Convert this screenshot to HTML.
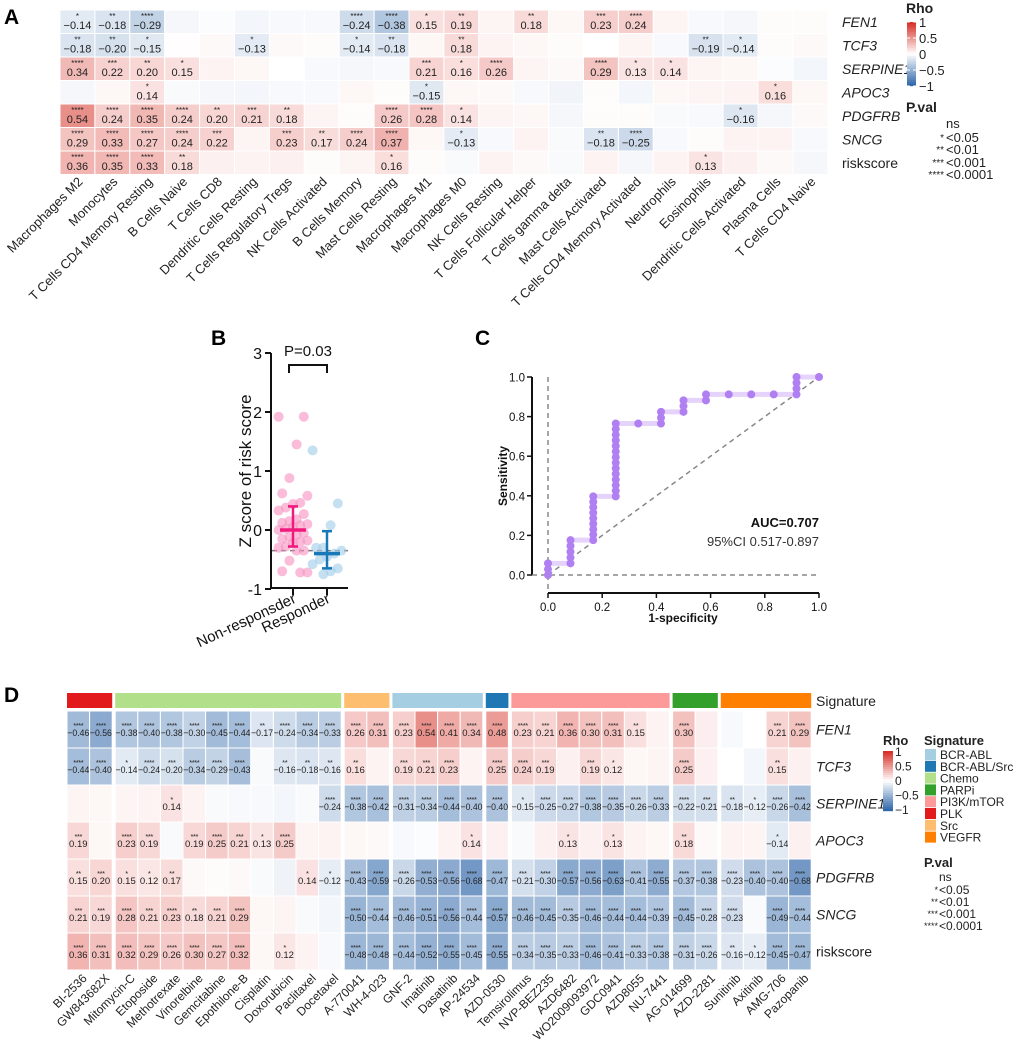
<!DOCTYPE html>
<html><head><meta charset="utf-8">
<style>
html,body{margin:0;padding:0;background:#fff;}
svg{display:block;font-family:"Liberation Sans",Arial,sans-serif;}
</style></head>
<body>
<svg id="fig" width="1020" height="1041" viewBox="0 0 1020 1041" xmlns="http://www.w3.org/2000/svg">
<rect width="1020" height="1041" fill="#fff"/>
<g id="pa"></g>
<g id="pb"></g>
<g id="pc"></g>
<g id="pd"></g>
</svg>
<script>
// ===== Panel A data =====
const aCols = ["Macrophages M2","Monocytes","T Cells CD4 Memory Resting","B Cells Naive","T Cells CD8","Dendritic Cells Resting","T Cells Regulatory Tregs","NK Cells Activated","B Cells Memory","Mast Cells Resting","Macrophages M1","Macrophages M0","NK Cells Resting","T Cells Follicular Helper","T Cells gamma delta","Mast Cells Activated","T Cells CD4 Memory Activated","Neutrophils","Eosinophils","Dendritic Cells Activated","Plasma Cells","T Cells CD4 Naive"];
const aRows = ["FEN1","TCF3","SERPINE1","APOC3","PDGFRB","SNCG","riskscore"];
const aVals = [
 [-0.14,-0.18,-0.29,-0.05,-0.02,-0.06,-0.04,-0.04,-0.24,-0.38,0.15,0.19,0.05,0.18,0.04,0.23,0.24,0.05,-0.04,-0.05,0.02,0.02],
 [-0.18,-0.20,-0.15,0.01,0.03,-0.13,0.03,0.02,-0.14,-0.18,0.04,0.18,0.06,0.04,0.02,0.00,0.05,-0.04,-0.19,-0.14,0.02,0.03],
 [0.34,0.22,0.20,0.15,0.06,0.04,0.00,-0.04,-0.05,-0.04,0.21,0.16,0.26,0.05,0.03,0.29,0.13,0.14,0.05,0.04,-0.02,-0.06],
 [-0.05,0.04,0.14,-0.03,-0.05,-0.06,-0.04,-0.04,0.04,0.02,-0.15,0.04,0.03,-0.04,-0.07,0.02,-0.06,0.04,0.05,0.06,0.16,0.04],
 [0.54,0.24,0.35,0.24,0.20,0.21,0.18,0.05,0.02,0.26,0.28,0.14,0.05,0.04,-0.05,0.02,0.02,-0.03,-0.04,-0.16,-0.05,0.03],
 [0.29,0.33,0.27,0.24,0.22,0.05,0.23,0.17,0.24,0.37,0.04,-0.13,-0.04,0.06,-0.03,-0.18,-0.25,-0.04,0.02,0.06,0.06,-0.04],
 [0.36,0.35,0.33,0.18,0.07,0.06,0.07,0.02,0.05,0.16,0.02,-0.03,0.06,0.03,-0.03,0.06,-0.05,0.06,0.13,0.07,0.03,-0.05]
];
const aStars = [
 ["*","**","****","","","","","","****","****","*","**","","**","","***","****","","","","",""],
 ["**","**","*","","","*","","","*","**","","**","","","","","","","**","*","",""],
 ["****","***","**","*","","","","","","","***","*","****","","","****","*","*","","","",""],
 ["","","*","","","","","","","","*","","","","","","","","","","*",""],
 ["****","****","****","****","**","***","**","","","****","****","*","","","","","","","","*","",""],
 ["****","****","****","****","***","","***","**","****","****","","*","","","","**","****","","","","",""],
 ["****","****","****","**","","","","","","*","","","","","","","","","*","","",""]
];
// ===== Panel D data =====
const dCols = ["BI-2536","GW843682X","Mitomycin-C","Etoposide","Methotrexate","Vinorelbine","Gemcitabine","Epothilone-B","Cisplatin","Doxorubicin","Paclitaxel","Docetaxel","A-770041","WH-4-023","GNF-2","Imatinib","Dasatinib","AP-24534","AZD-0530","Temsirolimus","NVP-BEZ235","AZD6482","WO2009093972","GDC0941","AZD8055","NU-7441","AG-014699","AZD-2281","Sunitinib","Axitinib","AMG-706","Pazopanib"];
const dGroups = ["PLK","PLK","Chemo","Chemo","Chemo","Chemo","Chemo","Chemo","Chemo","Chemo","Chemo","Chemo","Src","Src","BCR-ABL","BCR-ABL","BCR-ABL","BCR-ABL","BCR-ABL/Src","PI3K/mTOR","PI3K/mTOR","PI3K/mTOR","PI3K/mTOR","PI3K/mTOR","PI3K/mTOR","PI3K/mTOR","PARPi","PARPi","VEGFR","VEGFR","VEGFR","VEGFR"];
const dRows = ["FEN1","TCF3","SERPINE1","APOC3","PDGFRB","SNCG","riskscore"];
const dVals = [
 [-0.46,-0.56,-0.38,-0.40,-0.38,-0.30,-0.45,-0.44,-0.17,-0.24,-0.34,-0.33,0.26,0.31,0.23,0.54,0.41,0.34,0.48,0.23,0.21,0.36,0.30,0.31,0.15,0.06,0.30,0.08,-0.04,0.00,0.21,0.29],
 [-0.44,-0.40,-0.14,-0.24,-0.20,-0.34,-0.29,-0.43,-0.03,-0.16,-0.18,-0.16,0.16,0.06,0.19,0.21,0.23,0.06,0.25,0.24,0.19,0.07,0.19,0.12,0.04,0.05,0.25,0.07,0.00,-0.06,0.15,0.07],
 [0.05,0.04,0.05,0.06,0.14,0.06,-0.03,-0.04,-0.04,-0.06,-0.03,-0.24,-0.38,-0.42,-0.31,-0.34,-0.44,-0.40,-0.40,-0.15,-0.25,-0.27,-0.38,-0.35,-0.26,-0.33,-0.22,-0.21,-0.18,-0.12,-0.26,-0.42],
 [0.19,0.04,0.23,0.19,-0.03,0.19,0.25,0.21,0.13,0.25,0.05,0.06,0.04,0.03,-0.04,-0.02,0.06,0.14,0.07,-0.03,0.07,0.13,0.07,0.13,0.06,0.04,0.18,0.03,0.06,0.05,-0.14,0.07],
 [0.15,0.20,0.15,0.12,0.17,0.03,0.02,0.03,-0.03,-0.08,0.14,-0.12,-0.43,-0.59,-0.26,-0.53,-0.56,-0.68,-0.47,-0.21,-0.30,-0.57,-0.56,-0.63,-0.41,-0.55,-0.37,-0.38,-0.23,-0.40,-0.40,-0.68],
 [0.21,0.19,0.28,0.21,0.23,0.18,0.21,0.29,0.04,0.05,-0.03,-0.06,-0.50,-0.44,-0.46,-0.51,-0.56,-0.44,-0.57,-0.46,-0.45,-0.35,-0.46,-0.44,-0.44,-0.39,-0.45,-0.28,-0.23,-0.03,-0.49,-0.44],
 [0.36,0.31,0.32,0.29,0.26,0.30,0.27,0.32,0.04,0.12,0.06,-0.04,-0.48,-0.48,-0.44,-0.52,-0.55,-0.45,-0.55,-0.34,-0.35,-0.33,-0.46,-0.41,-0.33,-0.38,-0.31,-0.26,-0.16,-0.12,-0.45,-0.47]
];
const dStars = [
 ["****","****","****","****","****","****","****","****","**","****","****","****","****","****","****","****","****","****","****","****","***","****","****","****","**","","****","","","","***","****"],
 ["****","****","*","****","***","****","****","****","","**","**","**","**","","***","***","****","","****","****","***","","***","*","","","****","","","","**",""],
 ["","","","","*","","","","","","","****","****","****","****","****","****","****","****","*","****","****","****","****","****","****","****","***","**","*","****","****"],
 ["***","","****","***","","***","****","***","*","****","","","","","","","","*","","","","*","","*","","","**","","","","*",""],
 ["**","***","*","*","**","","","","","","*","*","****","****","****","****","****","****","****","***","****","****","****","****","****","****","****","****","****","****","****","****"],
 ["***","***","****","***","****","**","***","****","","","","","****","****","****","****","****","****","****","****","****","****","****","****","****","****","****","****","****","","****","****"],
 ["****","****","****","****","****","****","****","****","","*","","","****","****","****","****","****","****","****","****","****","****","****","****","****","****","****","****","**","*","****","****"]
];
const sigNames = ["BCR-ABL","BCR-ABL/Src","Chemo","PARPi","PI3K/mTOR","PLK","Src","VEGFR"];
const sigColors = ["#a6cee3","#1f78b4","#b2df8a","#33a02c","#fb9a99","#e31a1c","#fdbf6f","#ff7f00"];
// ===== Panel B data =====
const bGroups = ["Non-responsder","Responder"];
const bNonResp = [1.92,1.92,1.45,0.88,0.62,0.58,0.46,0.44,0.38,0.33,0.27,0.18,0.15,0.12,0.10,0.08,0.05,0.02,0.00,-0.05,-0.08,-0.12,-0.15,-0.18,-0.20,-0.22,-0.28,-0.30,-0.35,-0.35,-0.52,-0.70,-0.72,-0.72];
const bResp = [1.35,0.45,0.08,-0.30,-0.30,-0.35,-0.40,-0.45,-0.50,-0.58,-0.65,-0.70,-0.75];
const bCenter = [0.00,-0.40];
const bUpper = [0.40,-0.02];
const bLower = [-0.28,-0.65];
const bYTicks = [3,2,1,0,-1];
const bCutoff = -0.35;
// ===== Panel C data =====
const rocFpr = [0,0,0.083,0.083,0.167,0.167,0.25,0.25,0.333,0.417,0.417,0.5,0.5,0.583,0.583,0.667,0.75,0.833,0.917,0.917,1];
const rocTpr = [0,0.059,0.059,0.176,0.176,0.397,0.397,0.765,0.765,0.765,0.824,0.824,0.882,0.882,0.912,0.912,0.912,0.912,0.912,1,1];
const cTicks = [0,0.2,0.4,0.6,0.8,1.0];
const aucLabel = "AUC=0.707";
const ciLabel = "95%CI 0.517-0.897";

const NS="http://www.w3.org/2000/svg";
function mk(parent,tag,attrs,text){const e=document.createElementNS(NS,tag);for(const k in attrs)e.setAttribute(k,attrs[k]);if(text!==undefined)e.textContent=text;parent.appendChild(e);return e;}
function color(v){v=Math.max(-1,Math.min(1,v));let t=Math.abs(v);let c=v>=0?[215,48,39]:[49,104,170];
 return `rgb(${Math.round(255+(c[0]-255)*t)},${Math.round(255+(c[1]-255)*t)},${Math.round(255+(c[2]-255)*t)})`;}

// ===== Panel A =====
(function(){
 const g=document.getElementById('pa');
 let t=mk(g,'text',{x:4,y:24,'font-size':21,'font-weight':'bold'},'A');
 
 
 const x0=60,cw=34.9,y0=10,rh=23.5;
 const xs=i=>x0+i*cw, ys=j=>y0+j*rh;
 aRows.forEach((r,j)=>{
  aCols.forEach((c,i)=>{
   const v=aVals[j][i];
   const rc=mk(g,'rect',{x:xs(i),y:ys(j),width:cw,height:rh,fill:color(v),stroke:'#fff','stroke-width':1});
   
   
   const s=aStars[j][i];
   if(s){
    const cx=xs(i)+cw/2;
    const st=mk(g,'text',{x:cx,y:ys(j)+9,'font-size':8,'text-anchor':'middle',fill:'#222'},s);
    
    
    const vt=mk(g,'text',{x:cx,y:ys(j)+19,'font-size':11,'text-anchor':'middle',fill:'#222'},(v<0?'\u22120':'0')+Math.abs(v).toFixed(2).slice(1));
    
    
   }
  });
  const rl=mk(g,'text',{x:842,y:ys(j)+rh/2+5,'font-size':14,'font-style':r==='riskscore'?'normal':'italic',fill:'#222'},r);
  
  
 });
 aCols.forEach((c,i)=>{
  const cx=xs(i)+cw/2+6, cy=y0+7*rh+8;
  const tl=mk(g,'text',{x:cx,y:cy,'font-size':13,'text-anchor':'end',fill:'#222',transform:`rotate(-45 ${cx} ${cy})`},c);
  
  
 });
 const lg=mk(g,'g',{});
 
 
 mk(lg,'text',{x:906,y:13,'font-size':14,'font-weight':'bold',fill:'#222'},'Rho');
 for(let k=0;k<32;k++){const v=1-2*k/31;mk(lg,'rect',{x:907,y:22+k*2,width:9,height:2.2,fill:color(v)});}
 [[1,'1'],[0.5,'0.5'],[0,'0'],[-0.5,'\u22120.5'],[-1,'\u22121']].forEach(([v,l])=>{const y=54-v*32;mk(lg,'text',{x:919,y:y+5,'font-size':13,fill:'#222'},l);mk(lg,'line',{x1:907,x2:910,y1:y,y2:y,stroke:'#fff'});mk(lg,'line',{x1:913,x2:916,y1:y,y2:y,stroke:'#fff'});});
 mk(lg,'text',{x:906,y:112,'font-size':14,'font-weight':'bold',fill:'#222'},'P.val');
 [['','ns',129],['*','<0.05',141],['**','<0.01',153],['***','<0.001',166],['****','<0.0001',178]].forEach(([s,l,y])=>{
  mk(lg,'text',{x:944,y:y,'font-size':10,'text-anchor':'end',fill:'#222'},s);
  mk(lg,'text',{x:946,y:y+(l==='ns'?-1:1),'font-size':13,fill:'#222'},l);
 });
})();

// ===== Panel B =====
(function(){
 const g=document.getElementById('pb');
 let t=mk(g,'text',{x:211,y:345,'font-size':21,'font-weight':'bold'},'B');
 
 
 const yv=v=>530-59*v, xg=[293,327];
 const ax=mk(g,'path',{d:`M271 353 V588 H348`,stroke:'#111','stroke-width':2,fill:'none'});
 
 
 bYTicks.forEach(v=>{mk(g,'line',{x1:265,x2:271,y1:yv(v),y2:yv(v),stroke:'#111','stroke-width':2});
  const tl=mk(g,'text',{x:262,y:yv(v)+6,'font-size':16,'text-anchor':'end',fill:'#111'},v<0?'-'+Math.abs(v):String(v));
  
  });
 xg.forEach((x,i)=>{mk(g,'line',{x1:x,x2:x,y1:588,y2:595,stroke:'#111','stroke-width':2});
  const tl=mk(g,'text',{x:x+4,y:602,'font-size':15,'text-anchor':'end',fill:'#111',transform:`rotate(-25 ${x+4} 602)`},bGroups[i]);
  
  });
 const yt=mk(g,'text',{x:0,y:0,'font-size':17,'text-anchor':'middle',fill:'#111',transform:'translate(251 471) rotate(-90)'},'Z score of risk score');
 
 
 const cut=mk(g,'line',{x1:272,x2:348,y1:yv(bCutoff),y2:yv(bCutoff),stroke:'#777','stroke-width':1.5,'stroke-dasharray':'5 4'});
 
 
 const sets=[[bNonResp,'#f78fc0','#f0197d'],[bResp,'#9ecbe8','#1979b8']];
 sets.forEach(([arr,fc,lc],gi)=>{
  arr.forEach((v,i)=>{const off=((i*7)%9-4)*3.6;
   const c=mk(g,'circle',{cx:xg[gi]+off,cy:yv(v),r:5,fill:fc,'fill-opacity':0.6});
   
   });
  const x=xg[gi];
  const eb=mk(g,'g',{stroke:lc,'stroke-width':3.5});
  
  
  mk(eb,'line',{x1:x-13,x2:x+13,y1:yv(bCenter[gi]),y2:yv(bCenter[gi])});
  mk(eb,'line',{x1:x,x2:x,y1:yv(bUpper[gi]),y2:yv(bLower[gi]),'stroke-width':2.5});
  mk(eb,'line',{x1:x-5,x2:x+5,y1:yv(bUpper[gi]),y2:yv(bUpper[gi]),'stroke-width':2.5});
  mk(eb,'line',{x1:x-5,x2:x+5,y1:yv(bLower[gi]),y2:yv(bLower[gi]),'stroke-width':2.5});
 });
 const br=mk(g,'path',{d:'M289 373 V365 H327 V373',stroke:'#111','stroke-width':2,fill:'none'});
 
 
 const pt=mk(g,'text',{x:308,y:356,'font-size':15,'text-anchor':'middle',fill:'#111'},'P=0.03');
 
 
})();

// ===== Panel C =====
(function(){
 const g=document.getElementById('pc');
 let t=mk(g,'text',{x:475,y:345,'font-size':21,'font-weight':'bold'},'C');
 
 
 const xv=v=>548+v*271, yv=v=>575-v*198;
 mk(g,'line',{x1:532,x2:532,y1:yv(1),y2:yv(0),stroke:'#111','stroke-width':2});
 mk(g,'line',{x1:548,x2:xv(1),y1:593,y2:593,stroke:'#111','stroke-width':2});
 cTicks.forEach(v=>{
  mk(g,'line',{x1:527,x2:532,y1:yv(v),y2:yv(v),stroke:'#111','stroke-width':1.5});
  const a=mk(g,'text',{x:525,y:yv(v)+4.5,'font-size':11.5,'text-anchor':'end',fill:'#111'},v.toFixed(1));
  
  
  mk(g,'line',{x1:xv(v),x2:xv(v),y1:593,y2:598,stroke:'#111','stroke-width':1.5});
  const b=mk(g,'text',{x:xv(v),y:611,'font-size':11.5,'text-anchor':'middle',fill:'#111'},v.toFixed(1));
  
  
 });
 const xt=mk(g,'text',{x:683,y:622,'font-size':12,'font-weight':'bold','text-anchor':'middle',fill:'#111'},'1-specificity');
 
 
 const yt=mk(g,'text',{x:0,y:0,'font-size':12,'font-weight':'bold','text-anchor':'middle',fill:'#111',transform:'translate(507 476) rotate(-90)'},'Sensitivity');
 
 
 const dash={stroke:'#888','stroke-width':1.5,'stroke-dasharray':'5 4'};
 mk(g,'line',Object.assign({x1:xv(0),x2:xv(0),y1:yv(1),y2:593},dash));
 mk(g,'line',Object.assign({x1:532,x2:xv(1),y1:yv(0),y2:yv(0)},dash));
 const dg=mk(g,'line',Object.assign({x1:xv(0),x2:xv(1),y1:yv(0),y2:yv(1)},dash));
 
 
 let d='';rocFpr.forEach((f,i)=>{d+=(i?'L':'M')+xv(f)+' '+yv(rocTpr[i]);});
 const ln=mk(g,'path',{d:d,stroke:'#e6d3fb','stroke-width':5,fill:'none'});
 
 
 const pts=[];
 rocFpr.forEach((f,i)=>{
  if(i>0&&rocFpr[i-1]===f){const a=rocTpr[i-1],b=rocTpr[i];const n=Math.round((b-a)*34);for(let k=1;k<n;k++)pts.push([f,a+(b-a)*k/n]);}
  pts.push([f,rocTpr[i]]);
 });
 pts.forEach(p=>{const c=mk(g,'circle',{cx:xv(p[0]),cy:yv(p[1]),r:4,fill:'#b07ff2'});
  
  });
 const au=mk(g,'text',{x:819,y:527,'font-size':13,'font-weight':'bold','text-anchor':'end',fill:'#111'},aucLabel);
 
 
 const ci=mk(g,'text',{x:819,y:546,'font-size':13,'text-anchor':'end',fill:'#333'},ciLabel);
 
 
})();

// ===== Panel D =====
(function(){
 const g=document.getElementById('pd');
 let t=mk(g,'text',{x:4,y:702,'font-size':21,'font-weight':'bold'},'D');
 
 
 const cw=22.6,gap=3.0,x0=67,y0=711,rh=37;
 const xs=[];let x=x0;
 dCols.forEach((c,i)=>{if(i>0&&dGroups[i]!==dGroups[i-1])x+=gap;xs.push(x);x+=cw;});
 let i0=0;
 for(let i=1;i<=dCols.length;i++){
  if(i===dCols.length||dGroups[i]!==dGroups[i0]){
   const col=sigColors[sigNames.indexOf(dGroups[i0])];
   const r=mk(g,'rect',{x:xs[i0],y:693,width:xs[i-1]+cw-xs[i0],height:15,fill:col});
   
   
   i0=i;}
 }
 const sl=mk(g,'text',{x:816,y:706,'font-size':14,fill:'#222'},'Signature');
 
 
 dRows.forEach((r,j)=>{
  const y=y0+j*rh;
  dCols.forEach((c,i)=>{
   const v=dVals[j][i];
   const rc=mk(g,'rect',{x:xs[i],y:y,width:cw,height:rh,fill:color(v),stroke:'#fff','stroke-width':1});
   
   
   const s=dStars[j][i];
   if(s){
    const cx=xs[i]+cw/2;
    mk(g,'text',{x:cx,y:y+17,'font-size':7.5,'text-anchor':'middle',fill:'#222','letter-spacing':'-0.4'},s);
    const txt=(v<0?'\u22120':'0')+Math.abs(v).toFixed(2).slice(1);
    const a={x:cx,y:y+25,'font-size':9.5,'text-anchor':'middle',fill:'#222'};
    if(v<0){a.textLength=22;a.lengthAdjust='spacingAndGlyphs';}
    mk(g,'text',a,txt);
   }
  });
  const rl=mk(g,'text',{x:816,y:y+rh/2+5,'font-size':14,'font-style':r==='riskscore'?'normal':'italic',fill:'#222'},r);
  
  
 });
 dCols.forEach((c,i)=>{
  const cx=xs[i]+cw-2, cy=979;
  const tl=mk(g,'text',{x:cx,y:cy,'font-size':12,'text-anchor':'end',fill:'#222',transform:`rotate(-45 ${cx} ${cy})`},c);
  
  
 });
 const lg=mk(g,'g',{});
 
 
 mk(lg,'text',{x:883,y:745,'font-size':13,'font-weight':'bold',fill:'#222'},'Rho');
 for(let k=0;k<30;k++){const v=1-2*k/29;mk(lg,'rect',{x:883,y:751+k*2,width:10,height:2.2,fill:color(v)});}
 [[1,'1'],[0.5,'0.5'],[0,'0'],[-0.5,'\u22120.5'],[-1,'\u22121']].forEach(([v,l])=>{const y=781-v*29;mk(lg,'text',{x:895,y:y+4,'font-size':12,fill:'#222'},l);});
 mk(lg,'text',{x:924,y:745,'font-size':13,'font-weight':'bold',fill:'#222'},'Signature');
 sigNames.forEach((n,k)=>{const y=749+k*11.8;
  const sw=mk(lg,'rect',{x:925,y:y,width:11,height:11,fill:sigColors[k]});
  
  
  mk(lg,'text',{x:940,y:y+10,'font-size':12,fill:'#222'},n);});
 mk(lg,'text',{x:924,y:867,'font-size':13,'font-weight':'bold',fill:'#222'},'P.val');
 [['','ns',882],['*','<0.05',893],['**','<0.01',905],['***','<0.001',917],['****','<0.0001',929]].forEach(([s,l,y])=>{
  mk(lg,'text',{x:938,y:y,'font-size':9,'text-anchor':'end',fill:'#222'},s);
  mk(lg,'text',{x:939,y:y+(l==='ns'?-1:1),'font-size':12,fill:'#222'},l);
 });
})();
</script>
</body></html>
